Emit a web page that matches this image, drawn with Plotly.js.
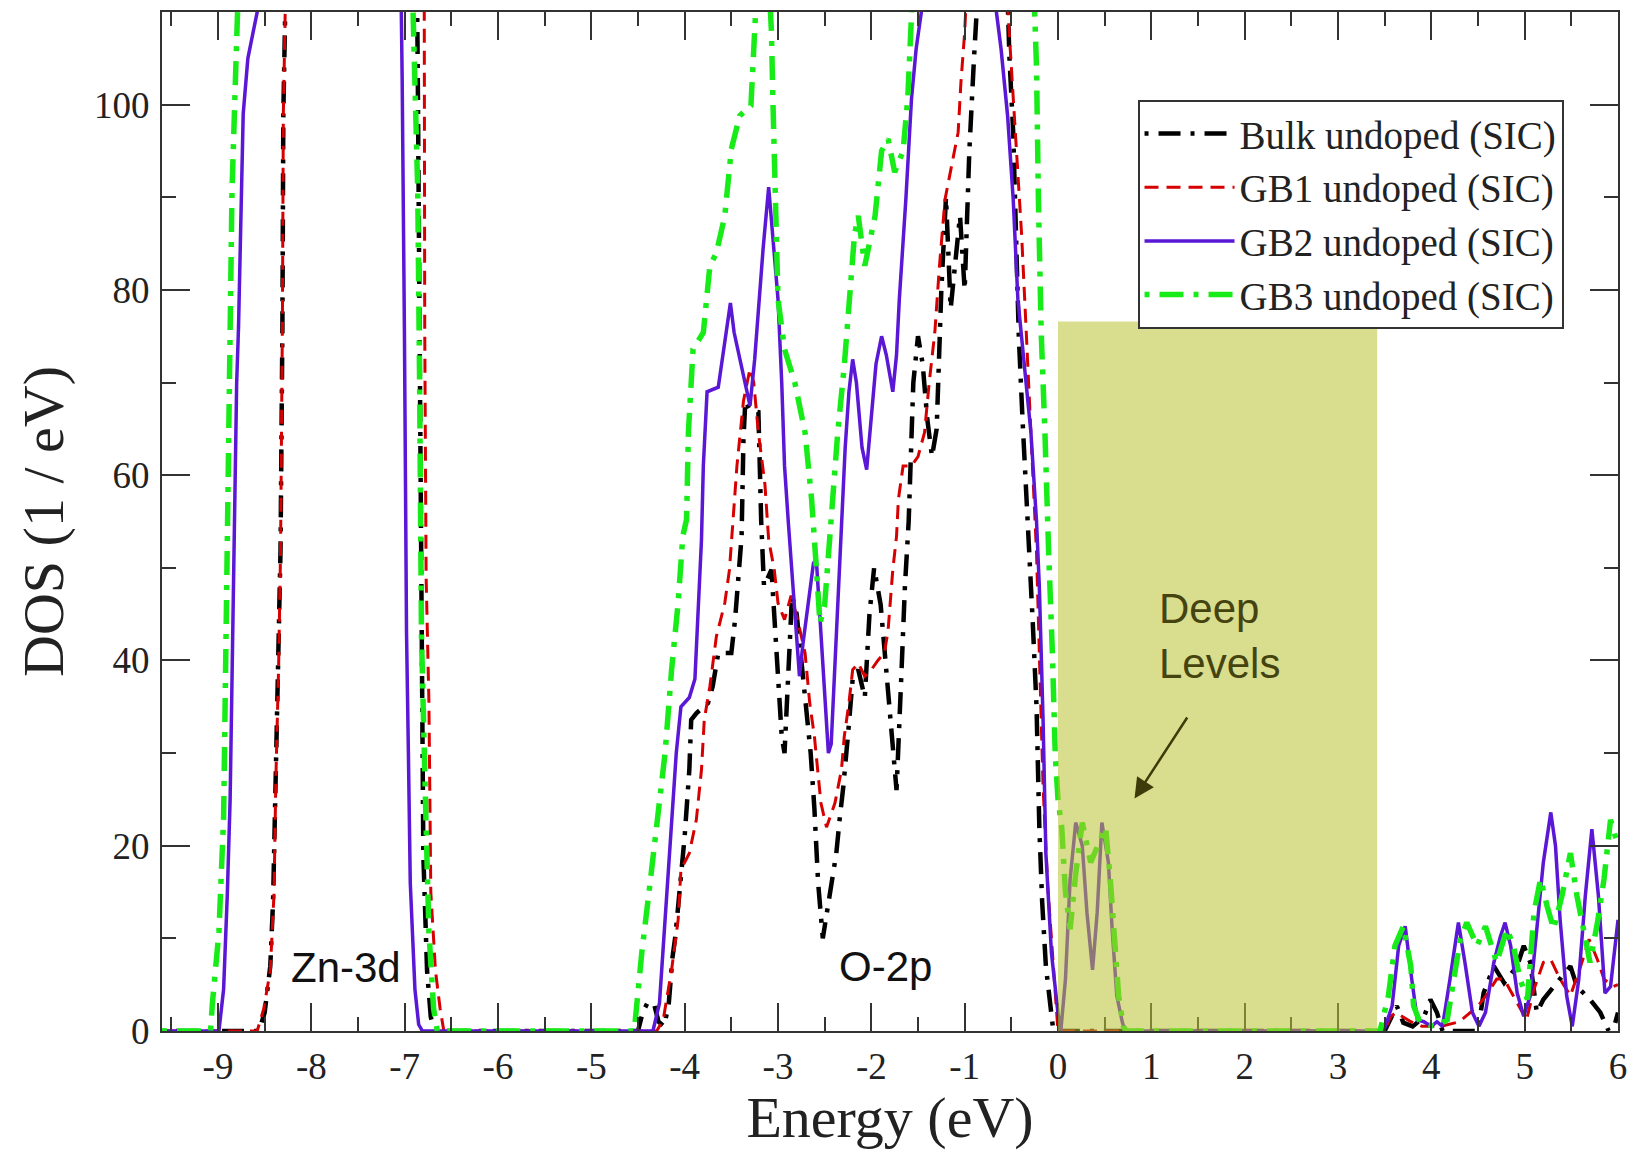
<!DOCTYPE html>
<html>
<head>
<meta charset="utf-8">
<script src="https://cdn.plot.ly/plotly-3.0.1.min.js"></script>
<style>html,body{margin:0;padding:0;background:#fff;}#chart{width:1637px;height:1150px;}</style>
</head>
<body>
<div id="chart"></div>
<script>
// Energy (eV), DOS (1/eV) pairs
const seriesNames = ["Bulk undoped (SIC)", "GB1 undoped (SIC)", "GB2 undoped (SIC)", "GB3 undoped (SIC)"];

const bulkPoints = [
  [-9.6,0],[-8.56,0],[-8.5,2],[-8.44,7],[-8.41,14],[-8.38,28],[-8.35,40],[-8.33,52],[-8.31,76],[-8.3,99],[-8.28,110],[-8.25,135],[-8.0,185],[-7.5,195],[-7.0,165],[-6.88,125],[-6.86,104],[-6.84,78.5],[-6.82,39.6],[-6.8,19],[-6.76,6.5],[-6.72,1.5],[-6.68,0],
  [-4.5,0],[-4.45,2],[-4.4,3],[-4.33,3],[-4.28,1],[-4.22,0.5],[-4.17,3],[-4.13,8],[-4.1,10.2],[-4.0,21],[-3.95,28.2],[-3.93,33.6],[-3.875,34.3],[-3.75,35.4],[-3.7,37.2],[-3.64,40.8],[-3.5,40.8],[-3.46,44.4],[-3.43,48.7],[-3.39,53.4],[-3.37,63.9],[-3.35,68],[-3.3,67],[-3.21,66.8],[-3.18,55],[-3.15,48],[-3.07,49.8],[-3.04,44.4],[-3.0,37.2],[-2.96,31.8],[-2.93,30],[-2.89,38],[-2.85,47],[-2.8,45],[-2.7,35],[-2.65,30],[-2.61,24],[-2.57,16],[-2.52,10],[-2.43,15.6],[-2.375,19.2],[-2.34,22.8],[-2.3,26.4],[-2.25,32],[-2.2,38],[-2.14,39],[-2.07,36],[-2.02,45],[-1.97,50],[-1.9,46],[-1.83,38],[-1.77,30],[-1.73,26],[-1.68,38],[-1.64,48],[-1.6,55],[-1.55,70],[-1.5,75],[-1.45,72],[-1.4,66],[-1.35,62],[-1.3,65],[-1.25,80],[-1.2,90],[-1.15,78],[-1.1,83],[-1.05,88],[-1.0,80],[-0.95,95],[-0.9,105],[-0.85,115],[-0.7,140],[-0.56,118],[-0.52,105],[-0.48,97],[-0.45,85],[-0.42,75],[-0.38,66],[-0.34,57],[-0.3,50],[-0.27,44],[-0.23,35],[-0.2,22],[-0.17,14],[-0.13,7],[-0.08,2],[-0.05,0],
  [3.5,0],[3.55,1],[3.63,2.7],[3.7,0.9],[3.8,0.5],[3.92,1.5],[3.99,3.4],[4.06,2],[4.12,0],[4.5,0],[4.56,4.1],[4.67,7],[4.78,5.2],[4.92,7],[4.99,9.2],[5.06,7.4],[5.13,2],[5.2,3.4],[5.29,4.5],[5.38,5.6],[5.49,7],[5.56,4.8],[5.7,3.4],[5.81,2],[5.9,0],[5.96,0.5],[6.0,2]
];

const gb1Points = [
  [-9.6,0],[-8.58,0],[-8.51,2.4],[-8.44,6.5],[-8.4,14.8],[-8.38,27.2],[-8.35,39.6],[-8.33,51.6],[-8.31,76.4],[-8.3,99],[-8.28,110],[-8.25,135],[-8.0,190],[-7.5,200],[-7.0,170],[-6.82,125],[-6.79,110],[-6.785,76],[-6.77,49],[-6.74,35.5],[-6.72,15],[-6.67,6.5],[-6.62,2.4],[-6.58,0],
  [-4.3,0],[-4.23,1.2],[-4.14,6.6],[-4.07,12],[-4.04,17.4],[-3.95,19.2],[-3.875,22.8],[-3.82,28.2],[-3.79,33.6],[-3.73,37.2],[-3.66,42.6],[-3.57,46.2],[-3.52,49.8],[-3.48,55.2],[-3.44,61],[-3.37,68],[-3.3,71.5],[-3.26,70],[-3.21,64.6],[-3.14,59],[-3.1,53],[-3.04,49.8],[-3.0,46.2],[-2.93,44.4],[-2.86,47],[-2.79,44.4],[-2.71,40.8],[-2.66,35.4],[-2.61,31.8],[-2.54,24.6],[-2.48,22],[-2.39,24.6],[-2.32,28.2],[-2.29,31.8],[-2.24,35.4],[-2.2,39],[-2.14,39.7],[-2.07,38.3],[-2.0,39],[-1.93,40],[-1.86,40.8],[-1.82,43.3],[-1.8,46],[-1.77,49.8],[-1.73,53.4],[-1.71,57.4],[-1.66,61],[-1.57,61],[-1.5,62],[-1.43,64.6],[-1.38,70],[-1.32,75.4],[-1.27,82.6],[-1.21,89.8],[-1.14,93.4],[-1.07,97],[-1.04,102.4],[-1.0,107.8],[-0.98,112],[-0.9,140],[-0.7,150],[-0.56,120],[-0.536,110],[-0.5,104],[-0.45,97],[-0.39,86],[-0.34,75.4],[-0.29,64.6],[-0.25,57.4],[-0.23,51.6],[-0.2,40.8],[-0.16,26.4],[-0.11,15.6],[-0.05,6.6],[0.0,0],
  [3.5,0],[3.56,1.5],[3.62,2],[3.7,1.5],[3.78,1],[3.9,0.5],[4.1,0.5],[4.3,1],[4.42,2],[4.5,2.7],[4.6,4],[4.7,5.6],[4.78,5.6],[4.88,3.8],[5.02,1.2],[5.1,4.5],[5.2,7.4],[5.28,7.7],[5.38,5.6],[5.49,3.8],[5.6,7],[5.69,9.9],[5.78,7.7],[5.85,5.6],[5.95,4.8],[6.0,5]
];

const gb2Points = [
  [-9.6,0],[-8.99,0],[-8.94,4.5],[-8.9,14.8],[-8.87,25],[-8.85,37.6],[-8.83,51.6],[-8.8,70],[-8.78,76],[-8.75,88],[-8.73,99],[-8.68,105],[-8.63,107.6],[-8.58,110],[-8.55,130],[-8.4,180],[-8.0,170],[-7.6,190],[-7.2,160],[-7.06,125],[-7.036,110],[-7.027,103],[-7.003,76],[-6.98,43],[-6.96,30],[-6.94,16],[-6.89,4.5],[-6.85,0.7],[-6.81,0],
  [-4.34,0],[-4.27,3],[-4.2,13.8],[-4.125,24.6],[-4.09,30],[-4.04,35],[-3.95,36],[-3.89,38],[-3.86,44],[-3.82,53],[-3.8,61],[-3.76,69],[-3.64,69.5],[-3.58,74],[-3.51,78.6],[-3.47,75.4],[-3.39,71.8],[-3.3,67.5],[-3.25,72.5],[-3.2,79.7],[-3.16,84.4],[-3.1,91.1],[-3.04,84],[-3.0,79],[-2.96,70],[-2.93,61],[-2.89,55],[-2.86,51],[-2.82,46],[-2.79,41.5],[-2.77,38.3],[-2.73,42],[-2.68,46],[-2.62,50.5],[-2.59,51],[-2.52,40],[-2.46,30],[-2.43,31],[-2.38,42],[-2.32,55],[-2.28,63],[-2.24,69],[-2.2,72.5],[-2.16,70],[-2.1,63],[-2.05,60.6],[-2.0,66],[-1.95,72],[-1.89,75],[-1.84,73],[-1.77,69],[-1.73,73],[-1.7,79],[-1.63,89.8],[-1.57,100.6],[-1.52,106],[-1.46,110.3],[-1.42,125],[-1.2,160],[-1.0,170],[-0.8,140],[-0.68,118],[-0.66,110],[-0.61,106],[-0.54,98.8],[-0.48,89.8],[-0.43,79],[-0.36,71.8],[-0.29,64.6],[-0.23,55],[-0.2,48],[-0.16,33.6],[-0.13,19.2],[-0.07,8.4],[0.0,1.9],[0.03,0],
  [0.08,5.6],[0.13,16.4],[0.19,22.5],[0.26,20],[0.31,12.8],[0.37,6.6],[0.42,12.8],[0.47,22.5],[0.54,18.2],[0.58,11],[0.63,3.8],[0.69,0.9],[0.72,0],
  [3.49,0],[3.58,2.7],[3.65,9.2],[3.72,11.3],[3.79,5.6],[3.85,1.2],[3.92,1],[4.0,0.5],[4.06,1],[4.12,0.5],[4.2,5.6],[4.26,9.9],[4.29,11.7],[4.36,7.4],[4.44,2],[4.51,0.5],[4.58,2],[4.67,7.4],[4.74,10.2],[4.79,11.7],[4.85,9.2],[4.92,4.1],[4.99,1.6],[5.06,3.8],[5.13,11],[5.2,18.2],[5.28,23.6],[5.33,20],[5.38,12],[5.45,3.8],[5.51,0.5],[5.58,5.6],[5.65,14.6],[5.72,21.8],[5.79,14.6],[5.86,4.1],[5.92,4.8],[5.99,11],[6.0,12]
];

const gb3Points = [
  [-9.6,0],[-9.08,0],[-9.06,3],[-8.99,10.7],[-8.94,23],[-8.92,39.6],[-8.9,51.6],[-8.87,70],[-8.85,90.7],[-8.8,107],[-8.78,115],[-8.6,170],[-8.2,200],[-7.6,190],[-7.2,170],[-6.95,125],[-6.91,110],[-6.86,90.7],[-6.84,70],[-6.82,42.7],[-6.77,22],[-6.74,10.7],[-6.69,2.4],[-6.65,0],
  [-4.54,0],[-4.46,8.4],[-4.375,15.6],[-4.29,22.8],[-4.21,30],[-4.14,39],[-4.07,46.2],[-4.02,53.4],[-3.98,55.2],[-3.96,64.6],[-3.91,73.6],[-3.8,75.4],[-3.73,82.6],[-3.66,84],[-3.57,88],[-3.5,95.2],[-3.41,98.8],[-3.29,99.9],[-3.25,107.8],[-3.2,118],[-3.12,118],[-3.07,107.8],[-3.055,100.6],[-3.04,93.4],[-3.02,86.2],[-3.0,79],[-2.93,73.6],[-2.82,70],[-2.71,64.6],[-2.64,57.4],[-2.6,51.6],[-2.55,44],[-2.5,46],[-2.43,56],[-2.36,64.6],[-2.29,71.8],[-2.18,86],[-2.14,88],[-2.07,82.6],[-1.96,88],[-1.89,95],[-1.82,96.3],[-1.75,92.7],[-1.66,95],[-1.61,100.6],[-1.57,109.6],[-1.53,120],[-1.2,170],[-0.8,180],[-0.4,150],[-0.27,120],[-0.25,110],[-0.23,104],[-0.21,89.8],[-0.18,75.4],[-0.14,64.6],[-0.11,57.4],[-0.1,51.6],[-0.06,40.8],[-0.03,30],[0.0,25],
  [0.04,22],[0.08,15],[0.13,11],[0.19,17],[0.26,22.5],[0.35,18.2],[0.42,20],[0.51,22],[0.56,16.4],[0.6,11],[0.65,3.8],[0.7,0.5],[0.73,0],
  [3.45,0],[3.54,3.8],[3.61,9.2],[3.7,11.3],[3.78,7],[3.81,2.7],[3.88,0.9],[4.03,0.5],[4.17,1.2],[4.24,5.6],[4.31,9.9],[4.38,11.7],[4.49,9.2],[4.58,11.3],[4.7,7.4],[4.81,11],[4.88,9.2],[4.95,5.6],[5.03,3.4],[5.1,12.8],[5.17,16.4],[5.24,13.5],[5.31,11],[5.4,14.6],[5.49,19.2],[5.56,14.6],[5.63,11],[5.7,7.4],[5.78,11.7],[5.85,16.4],[5.92,22.8],[5.99,20.7],[6.0,20]
];

// Shaded "deep levels" band: energy start/end and DOS height
const bandEnergy = [0, 3.42];
const bandHeight = 76.6;

// Text labels and their anchor positions (data units)
const labelZn = {text: "Zn-3d", x: -7.63, y: 6.9};
const labelO = {text: "O-2p", x: -1.85, y: 7.0};
const labelDeep = {text: "Deep<br>Levels", x: 1.065, y: 42.6};
const arrowDeep = {tailX: 1.395, tailY: 34.0, headX: 0.82, headY: 25.1};

const xTickVals = [-9,-8,-7,-6,-5,-4,-3,-2,-1,0,1,2,3,4,5,6];
const yTickVals = [0,20,40,60,80,100];

const serif = "Liberation Serif, Times New Roman, serif";
const sans = "Liberation Sans, Arial, sans-serif";

function mk(points, name, color, width, dash) {
  return {
    x: points.map(p => p[0]),
    y: points.map(p => p[1]),
    name: name,
    type: "scatter",
    mode: "lines",
    line: {color: color, width: width, dash: dash},
    cliponaxis: true
  };
}

const data = [
  mk(bulkPoints, seriesNames[0], "#000000", 4.5, "4px,10px,22px,10px"),
  mk(gb1Points, seriesNames[1], "#d60000", 3, "14px,8px"),
  mk(gb2Points, seriesNames[2], "#5a17d6", 3.5, "solid"),
  mk(gb3Points, seriesNames[3], "#18ec18", 5.5, "5px,10px,24px,10px")
];

const axisCommon = {
  showline: true, linecolor: "#333", linewidth: 2, mirror: "ticks",
  ticks: "inside", tickcolor: "#333", tickwidth: 2,
  showgrid: false, zeroline: false,
  tickfont: {family: serif, size: 37, color: "#222"}
};

const layout = {
  width: 1637, height: 1150,
  margin: {l: 162, r: 19, t: 12, b: 119},
  paper_bgcolor: "#fff", plot_bgcolor: "#fff",
  showlegend: true,
  xaxis: Object.assign({}, axisCommon, {
    range: [-9.6, 6], tickmode: "array", tickvals: xTickVals, ticktext: xTickVals.map(v => String(v)), ticklen: 28,
    minor: {dtick: 0.5, ticklen: 14, tickcolor: "#333", tickwidth: 2, ticks: "inside"},
    ticklabelstandoff: 2,
    title: {text: "Energy (eV)", font: {family: serif, size: 58, color: "#222"}, standoff: 38}
  }),
  yaxis: Object.assign({}, axisCommon, {
    range: [0, 110], tickmode: "array", tickvals: yTickVals, ticktext: yTickVals.map(v => String(v)), ticklen: 28,
    minor: {dtick: 10, ticklen: 14, tickcolor: "#333", tickwidth: 2, ticks: "inside"},
    ticklabelstandoff: 3,
    title: {text: "DOS (1 / eV)", font: {family: serif, size: 58, color: "#222"}, standoff: 12}
  }),
  legend: {
    x: 0.670, y: 0.914, xanchor: "left", yanchor: "top",
    bgcolor: "#fff", bordercolor: "#333", borderwidth: 2,
    font: {family: serif, size: 39, color: "#222"},
    itemwidth: 90,
    tracegroupgap: 0
  },
  shapes: [{
    type: "rect", xref: "x", yref: "y",
    x0: bandEnergy[0], x1: bandEnergy[1], y0: 0, y1: bandHeight,
    fillcolor: "rgb(185,194,50)", opacity: 0.55, line: {width: 0}, layer: "above"
  }],
  annotations: [
    {x: labelZn.x, y: labelZn.y, xref: "x", yref: "y", text: labelZn.text, showarrow: false,
     font: {family: sans, size: 42, color: "#111"}, xanchor: "center", yanchor: "middle"},
    {x: labelO.x, y: labelO.y, xref: "x", yref: "y", text: labelO.text, showarrow: false,
     font: {family: sans, size: 42, color: "#111"}, xanchor: "center", yanchor: "middle"},
    {x: labelDeep.x, y: labelDeep.y, xref: "x", yref: "y", text: labelDeep.text, showarrow: false,
     font: {family: sans, size: 42, color: "#45430f"}, xanchor: "left", yanchor: "middle", align: "left"},
    {x: arrowDeep.headX, y: arrowDeep.headY, ax: arrowDeep.tailX, ay: arrowDeep.tailY,
     xref: "x", yref: "y", axref: "x", ayref: "y", text: "", showarrow: true,
     arrowhead: 2, arrowsize: 1.6, arrowwidth: 2.5, arrowcolor: "#3d3b0a"}
  ]
};

Plotly.newPlot("chart", data, layout, {displayModeBar: false, staticPlot: true});
</script>
</body>
</html>
